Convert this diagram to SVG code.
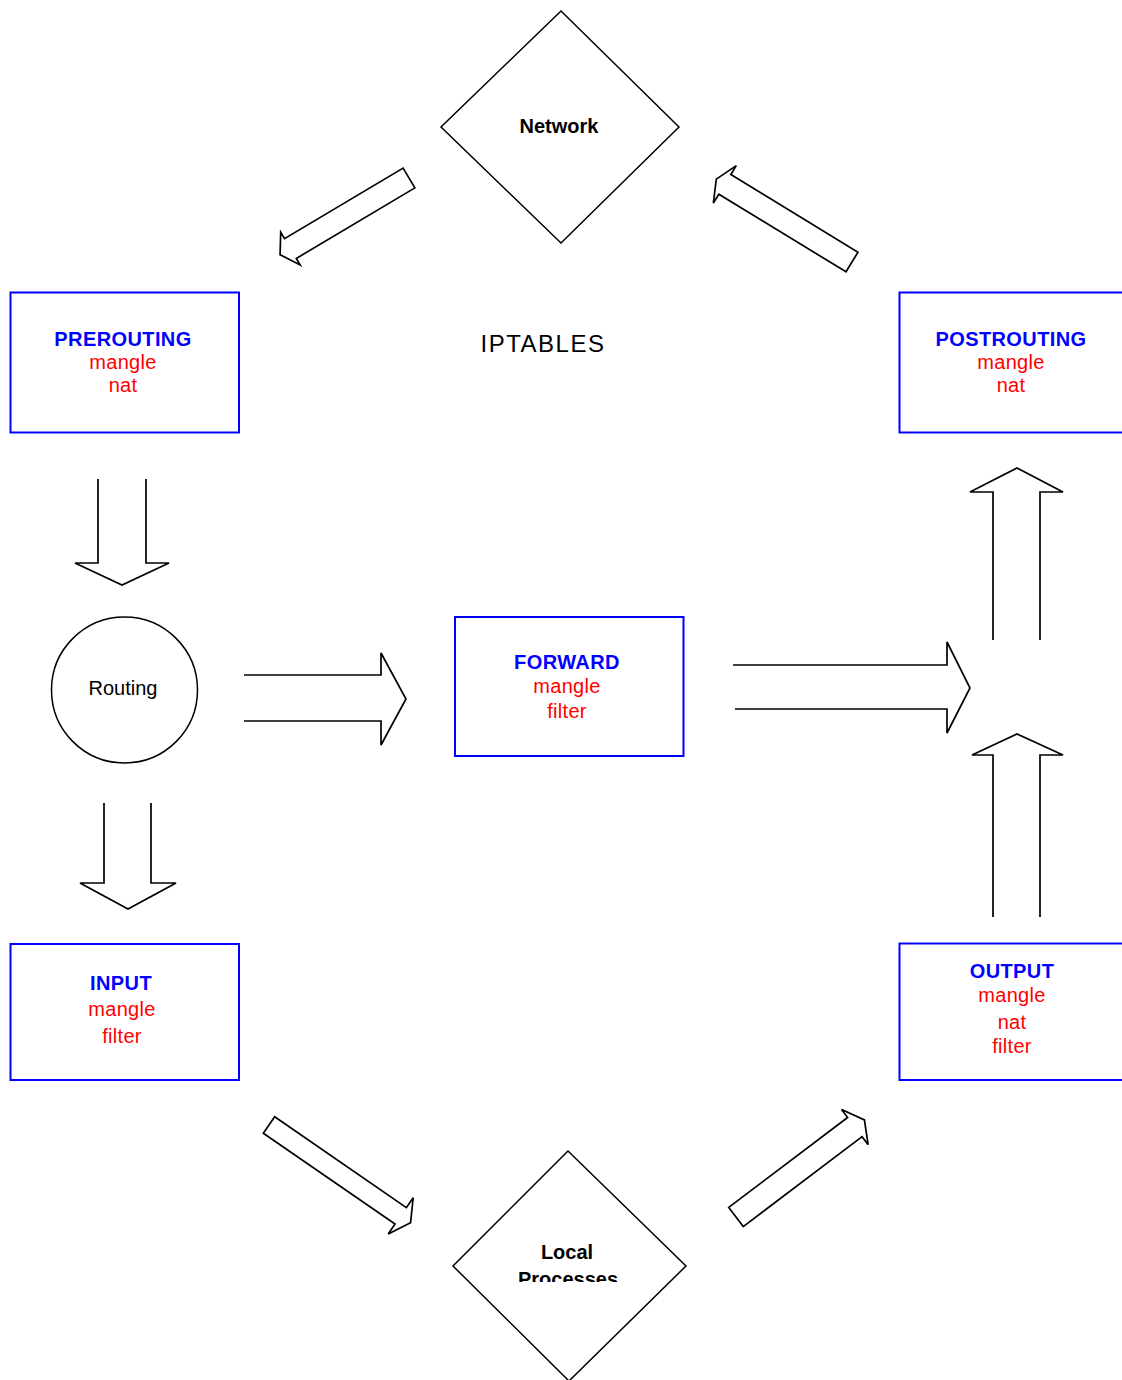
<svg xmlns="http://www.w3.org/2000/svg" width="1122" height="1380" viewBox="0 0 1122 1380">
  <style>
    .diamond { fill: #ffffff; stroke: #000000; stroke-width: 1.5; }
    .chain { fill: #ffffff; stroke: #0000ff; stroke-width: 2; }
    .arrow { fill: none; stroke: #000000; stroke-width: 1.7; stroke-linejoin: miter; }
    .title { font-family: "Liberation Sans", Arial, sans-serif; font-size: 20px; font-weight: bold; fill: #0000ff; text-anchor: middle; letter-spacing: 0.4px; }
    .table { font-family: "Liberation Sans", Arial, sans-serif; font-size: 20px; fill: #ff0000; text-anchor: middle; letter-spacing: 0.3px; }
    .label { font-family: "Liberation Sans", Arial, sans-serif; font-size: 20px; fill: #000000; text-anchor: middle; }
    .bold { font-weight: bold; }
  </style>
  <defs>
    <clipPath id="localClip">
      <rect x="440" y="1140" width="260" height="142"/>
    </clipPath>
  </defs>
  <rect width="1122" height="1380" fill="#ffffff"/>

  <!-- connectors: block arrows -->
  <g id="connectors">
    <polygon id="net-to-prerouting" class="arrow" points="0,-11.5 138,-11.5 138,-19 150,0 138,19 138,11.5 0,11.5" transform="translate(409,178) rotate(149.25)"/>
    <polygon id="postrouting-to-net" class="arrow" points="0,-11.5 149,-11.5 149,-22 159,0 149,22 149,11.5 0,11.5" transform="translate(852,262) rotate(-148.6)"/>
    <polyline id="prerouting-to-routing" class="arrow" points="98,479 98,563 75,563 122,585 169,563 146,563 146,479"/>
    <polyline id="routing-to-input" class="arrow" points="104,803 104,883 80,883 128,909 176,883 151,883 151,803"/>
    <polyline id="routing-to-forward" class="arrow" points="244,675 381,675 381,653 406,699 381,745 381,721 244,721"/>
    <polyline id="forward-out" class="arrow" points="733,665 947,665 947,642 970,688 947,733 947,709 735,709"/>
    <polyline id="merge-to-postrouting" class="arrow" points="993,640 993,492 970,492 1017,468 1063,492 1040,492 1040,640"/>
    <polyline id="output-up" class="arrow" points="993,917 993,755 972,755 1017,734 1063,755 1040,755 1040,917"/>
    <polygon id="input-to-local" class="arrow" points="0,-10 160,-10 160,-22 172,0 160,22 160,10 0,10" transform="translate(269,1125) rotate(34.6)"/>
    <polygon id="local-to-output" class="arrow" points="0,-12 149,-12 149,-22 161,0 149,22 149,12 0,12" transform="translate(736,1217) rotate(-37.1)"/>
  </g>

  <g id="network">
    <polygon class="diamond" points="561,11 679,127 561,243 441,127"/>
    <text class="label bold" x="559" y="133">Network</text>
  </g>

  <g id="iptables-title">
    <text class="label" x="543" y="352" style="font-size:24px; letter-spacing:1.5px">IPTABLES</text>
  </g>

  <g id="prerouting">
    <rect class="chain" x="10.5" y="292.5" width="228.5" height="140"/>
    <text class="title" x="123" y="346">PREROUTING</text>
    <text class="table" x="123" y="369">mangle</text>
    <text class="table" x="123" y="392">nat</text>
  </g>

  <g id="postrouting">
    <rect class="chain" x="899.5" y="292.5" width="230" height="140"/>
    <text class="title" x="1011" y="346">POSTROUTING</text>
    <text class="table" x="1011" y="369">mangle</text>
    <text class="table" x="1011" y="392">nat</text>
  </g>

  <g id="routing">
    <circle cx="124.5" cy="690" r="73" fill="#ffffff" stroke="#000000" stroke-width="1.5"/>
    <text class="label" x="123" y="695">Routing</text>
  </g>

  <g id="forward">
    <rect class="chain" x="455" y="617" width="228.5" height="139"/>
    <text class="title" x="567" y="669">FORWARD</text>
    <text class="table" x="567" y="693">mangle</text>
    <text class="table" x="567" y="718">filter</text>
  </g>

  <g id="input">
    <rect class="chain" x="10.5" y="944" width="228.5" height="136"/>
    <text class="title" x="121" y="990">INPUT</text>
    <text class="table" x="122" y="1016">mangle</text>
    <text class="table" x="122" y="1043">filter</text>
  </g>

  <g id="output">
    <rect class="chain" x="899.5" y="943.5" width="230" height="136.5"/>
    <text class="title" x="1012" y="978">OUTPUT</text>
    <text class="table" x="1012" y="1002">mangle</text>
    <text class="table" x="1012" y="1029">nat</text>
    <text class="table" x="1012" y="1053">filter</text>
  </g>

  <g id="local-processes">
    <polygon class="diamond" points="568,1151 686,1266 569,1381 453,1266"/>
    <g clip-path="url(#localClip)">
      <text class="label bold" x="567" y="1259">Local</text>
      <text class="label bold" x="568" y="1286">Processes</text>
    </g>
  </g>
</svg>
